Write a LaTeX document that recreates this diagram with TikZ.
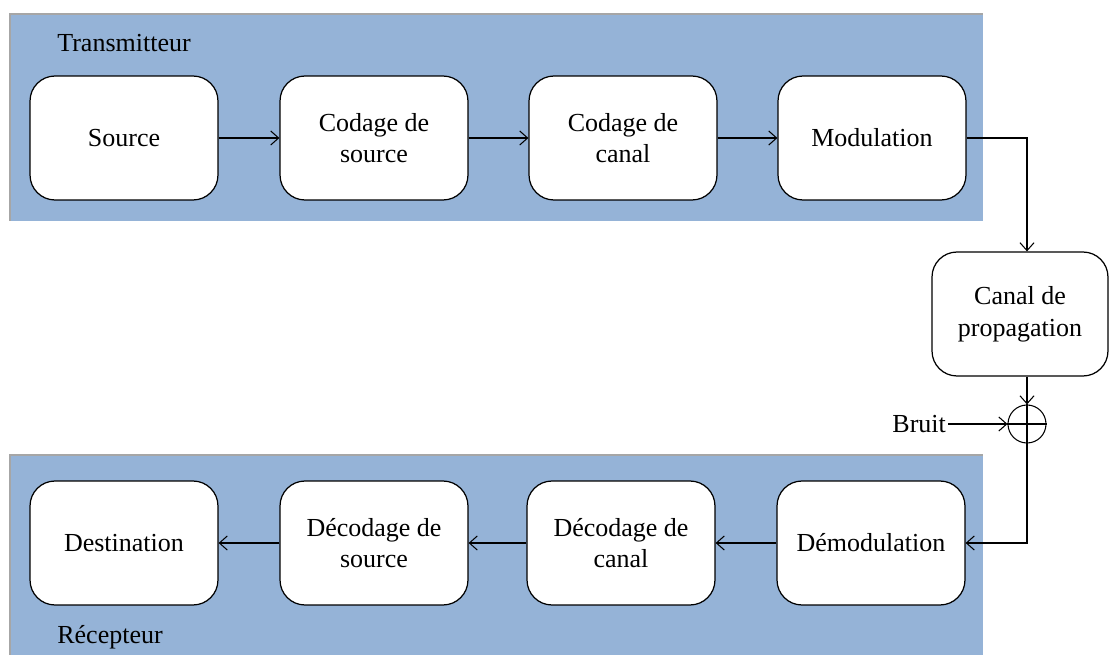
\documentclass[tikz,border=0pt]{standalone}
\usepackage{fontspec}
\setmainfont{Liberation Serif}
\usetikzlibrary{arrows.meta}
\definecolor{bleu}{RGB}{149,179,215}
\tikzset{bloc/.style = {draw, fill=white, rounded corners=0.5cm, line width=0.7pt,
                        minimum width=3.76cm, minimum height=2.48cm, align=center, inner sep=2pt}}
\tikzset{fleche/.style = {-{Straight Barb[length=4.5pt, width=8pt]}, line width=0.6pt}}
\tikzset{somme/.style = {draw, circle, fill=white, minimum size=0.76cm, inner sep=0, line width=0.6pt}}
\tikzset{zone/.style = {fill=bleu}}
\tikzset{texte/.style = {font=\fontsize{14.8pt}{18pt}\selectfont}}
\begin{document}
\begin{tikzpicture}[x=0.02cm, y=-0.02cm, every node/.style={texte}]
      \useasboundingbox (0, 0) rectangle (1110, 655);
      \fill [zone] (10, 14) rectangle (983, 221);
      \fill [zone] (10, 455) rectangle (983, 655);
      \draw [gray!70, line width=0.6pt] (10, 221) -- (10, 14) -- (983, 14);
      \draw [gray!70, line width=0.6pt] (10, 655) -- (10, 455) -- (983, 455);
      \node (trans) at (57, 52) [anchor=base west, inner sep=0] {Transmitteur};
      \node (recep) at (57, 643) [anchor=base west, inner sep=0] {Récepteur};
      \node (src) at (124, 138) [bloc] {Source};
      \node (csrc) at (374, 138) [bloc] {Codage de\\source};
      \node (ccan) at (623, 138) [bloc] {Codage de\\canal};
      \node (mod) at (872, 138) [bloc] {Modulation};
      \node (canal) at (1020, 314) [bloc, minimum width=3.52cm] {Canal de\\propagation};
      \node (plus) at (1027, 424) [somme] {};
      \draw [line width=0.6pt] (plus.north) -- (plus.south) (plus.west) -- (plus.east);
      \node (bruit) at (948, 424) [anchor=east, inner sep=1pt] {Bruit};
      \node (demod) at (871, 543) [bloc] {Démodulation};
      \node (dcan) at (621, 543) [bloc] {Décodage de\\canal};
      \node (dsrc) at (374, 543) [bloc] {Décodage de\\source};
      \node (dest) at (124, 543) [bloc] {Destination};
      \draw [fleche] (src) -- (csrc);
      \draw [fleche] (csrc) -- (ccan);
      \draw [fleche] (ccan) -- (mod);
      \draw [fleche] (mod.east) -| (plus |- canal.north);
      \draw [fleche] (plus |- canal.south) -- (plus.north);
      \draw [fleche] (bruit.east) -- (plus.west);
      \draw [fleche] (plus.south) |- (demod.east);
      \draw [fleche] (demod) -- (dcan);
      \draw [fleche] (dcan) -- (dsrc);
      \draw [fleche] (dsrc) -- (dest);
\end{tikzpicture}
\end{document}
